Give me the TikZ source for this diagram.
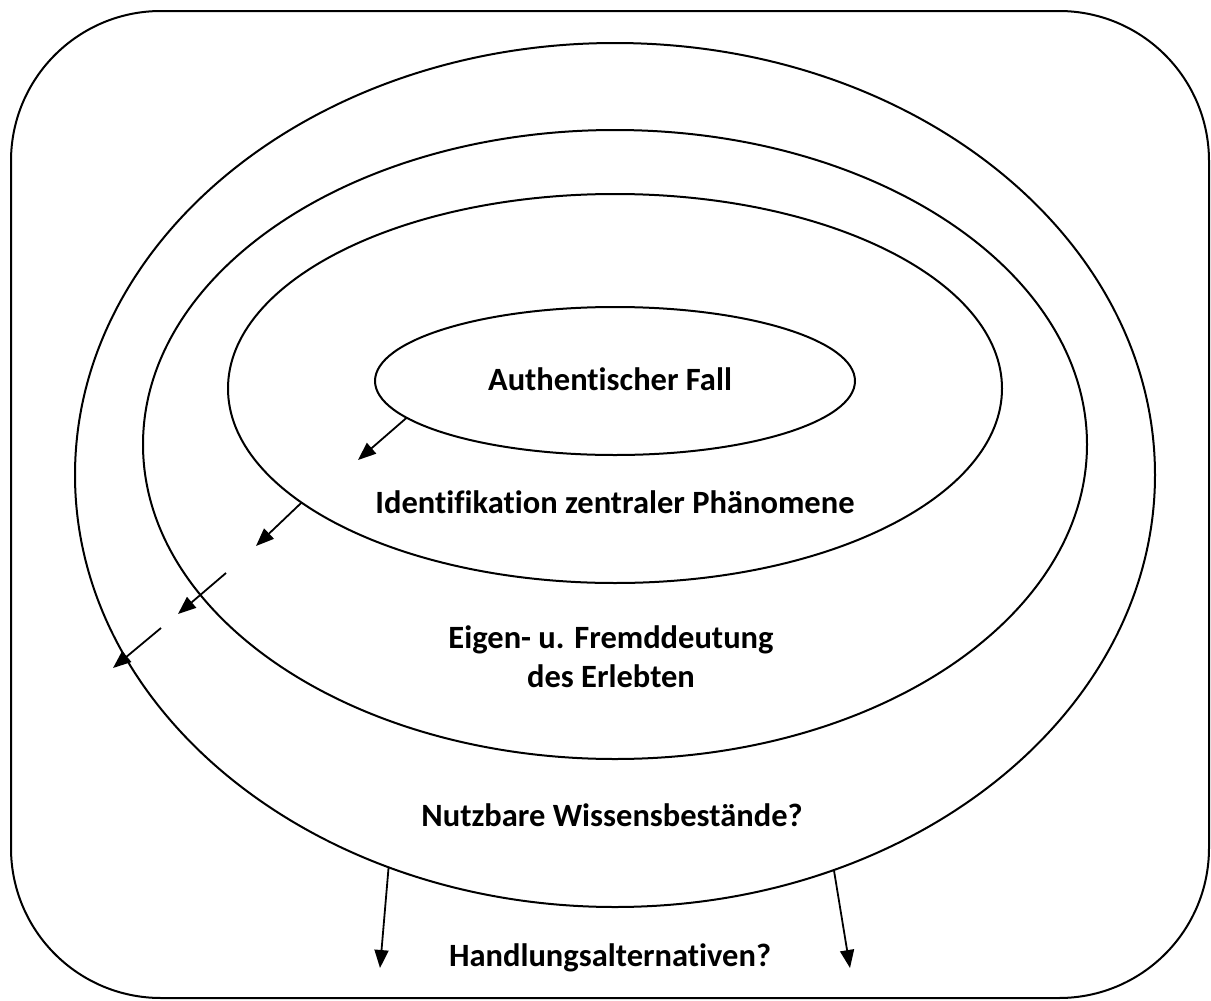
\documentclass[tikz,border=0pt]{standalone}
\usepackage{fontspec}
\setmainfont{Carlito}[Ligatures={NoCommon,NoContextual}]
\usetikzlibrary{shapes.geometric,arrows.meta}
\begin{document}
\begin{tikzpicture}[x=1pt,y=-1pt,
  ring/.style={draw, ellipse, line width=2pt, inner sep=0pt, outer sep=0pt},
  lbl/.style={font=\fontsize{32.5}{39}\selectfont\bfseries, anchor=base, inner sep=0pt},
  arr/.style={line width=1.8pt, -{Triangle[length=18pt,width=14pt]}}]
\useasboundingbox (0,0) rectangle (1211,1001);
% frame
\draw[line width=2pt, rounded corners=150pt] (11,11) rectangle (1209,998);
% nested rings
\node[ring, minimum width=1080pt, minimum height=864pt] (e4) at (615,475) {};
\node[ring, minimum width=944pt, minimum height=629pt] (e3) at (615,444.5) {};
\node[ring, minimum width=774pt, minimum height=389pt] (e2) at (615,388.5) {};
\node[ring, minimum width=480pt, minimum height=148pt] (e1) at (615,381) {};
% labels
\node[lbl] (t1) at (610,390) {Authentischer Fall};
\node[lbl] (t2) at (615,513) {Identifikation zentraler Phänomene};
\node[lbl] (t3) at (611,648) {Eigen- u. Fremddeutung};
\node[lbl] (t4) at (611,687) {des Erlebten};
\node[lbl] (t5) at (612,826) {Nutzbare Wissensbestände?};
\node[lbl] (t6) at (610,966) {Handlungsalternativen?};
% arrow end points
\coordinate (p1) at (358,460);
\coordinate (p2) at (256,546);
\coordinate (q3) at (226,573);
\coordinate (p3) at (178,614);
\coordinate (q4) at (161,628);
\coordinate (p4) at (113,668);
\coordinate (p5) at (380,968);
\coordinate (p6) at (850,968);
% arrows
\draw[arr] (e1.190) -- (p1);
\draw[arr] (e2.200.8) -- (p2);
\draw[arr] (q3) -- (p3);
\draw[arr] (q4) -- (p4);
\draw[arr] (e4.240.6) -- (p5);
\draw[arr] (e4.299.6) -- (p6);
\end{tikzpicture}
\end{document}
